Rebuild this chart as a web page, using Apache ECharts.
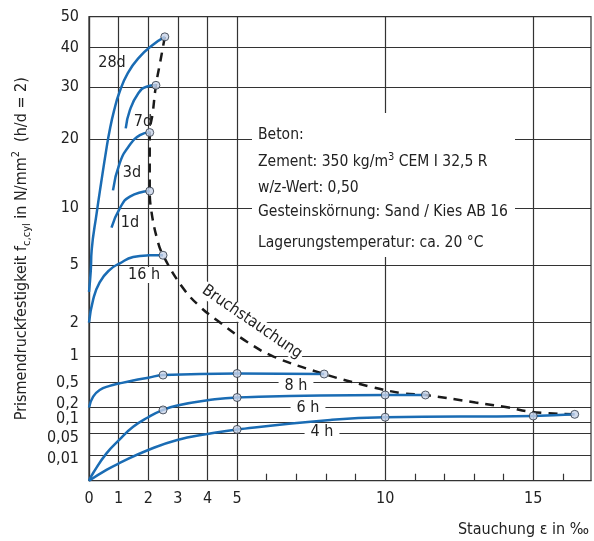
<!DOCTYPE html>
<html>
<head>
<meta charset="utf-8">
<script src="https://cdn.jsdelivr.net/npm/echarts@6/dist/echarts.min.js"></script>
<style>
  html, body { margin: 0; padding: 0; background: #fff; }
  #chart { width: 594px; height: 541px; }
</style>
</head>
<body>
<div id="chart"></div>
<script>
// hand drawn y scale: tick values and their height above the x axis
const yTickValues = [0, 0.01, 0.05, 0.1, 0.2, 0.5, 1, 2, 5, 10, 20, 30, 40, 50];
const yTickLabels = ['', '0,01', '0,05', '0,1', '0,2', '0,5', '1', '2', '5', '10', '20', '30', '40', '50'];
const yScalePos = [0, 25.7, 47.2, 58, 73.2, 98.2, 124.7, 158, 215.7, 272.4, 341.4, 393.4, 433, 464];

const xGridValues = [0, 1, 2, 3, 4, 5, 10, 15];
const xMinorTicks = [6, 7, 8, 9, 11, 12, 13, 14, 16];
const xMax = 16.95;

// Stauchung (‰), Druckfestigkeit (N/mm²)
const d28 = [[0, 3.6], [0.06, 4.7], [0.09, 6.3], [0.26, 9.6], [0.41, 13.7], [0.58, 18.4], [0.7, 21.8], [0.85, 25.6], [1.02, 28.9], [1.31, 33.6], [1.71, 37.7], [2.15, 40.9], [2.56, 43.5]];
const d7 = [[1.24, 22.1], [1.38, 25.6], [1.66, 28.8], [1.94, 30.15], [2.26, 30.5]];
const d3 = [[0.81, 12.6], [1.04, 16.6], [1.38, 19.2], [1.72, 20.8], [2.05, 21.3]];
const d1 = [[0.76, 8.3], [1.04, 10], [1.38, 11.7], [2.05, 12.5]];
const h16 = [[0, 2], [0.14, 3.2], [0.36, 4.1], [0.7, 4.75], [1.04, 5.15], [1.49, 5.7], [2, 5.85], [2.5, 5.86]];
const h8 = [[0, 0.2], [0.14, 0.33], [0.36, 0.41], [0.7, 0.46], [1.02, 0.488], [1.49, 0.538], [2, 0.59], [2.5, 0.64], [5, 0.67], [7.94, 0.66]];
const h6 = [[0, 0], [0.14, 0.003], [0.59, 0.013], [1.02, 0.038], [1.49, 0.081], [2, 0.136], [2.5, 0.184], [2.98, 0.224], [4, 0.286], [5, 0.32], [10, 0.35], [11.36, 0.35]];
const h4 = [[0, 0], [0.59, 0.0042], [1.02, 0.0068], [2, 0.0193], [2.98, 0.038], [4, 0.049], [5, 0.069], [8.15, 0.118], [10, 0.136], [15, 0.144], [16.4, 0.155]];
const bruch = [[2.56, 43.5], [2.42, 37], [2.26, 30.5], [2.15, 25], [2.05, 21.3], [2.05, 12.5], [2.1, 9.85], [2.28, 7.5], [2.5, 5.86], [3.18, 3.79], [3.75, 2.83], [4.31, 2.14], [5.33, 1.43], [6.23, 0.99], [7.94, 0.66], [9.5, 0.45], [10.6, 0.37], [11.36, 0.35], [13.05, 0.26], [14.17, 0.2], [14.9, 0.172], [16.4, 0.155]];
const messPunkte = [[2.56, 43.5], [2.26, 30.5], [2.05, 21.3], [2.05, 12.5], [2.5, 5.86], [2.5, 0.64], [5, 0.67], [7.94, 0.66], [2.5, 0.184], [5, 0.32], [10, 0.35], [11.36, 0.35], [5, 0.069], [10, 0.136], [15, 0.144], [16.4, 0.155]];

const F = "'Liberation Sans Narrow', 'DejaVu Sans Condensed', sans-serif";
const BLUE = '#1a6cb4';
const GRID = '#333';

// value -> position on the hand drawn axis (piecewise linear)
function pos (v) {
  for (let i = 1; i < yTickValues.length; i++) {
    if (v <= yTickValues[i]) {
      const a = yTickValues[i - 1], b = yTickValues[i];
      return yScalePos[i - 1] + (v - a) / (b - a) * (yScalePos[i] - yScalePos[i - 1]);
    }
  }
  return yScalePos[yScalePos.length - 1];
}
const toXY = arr => arr.map(p => [p[0], pos(p[1])]);

// crowded labels are nudged up (-) or down (+)
const labelNudge = { '0,2': -4, '0,1': -4.5, '0,05': 4, '0,01': 2 };

const chart = echarts.init(document.getElementById('chart'));

function curve (data) {
  return {
    type: 'line',
    data: toXY(data),
    smooth: 0.5,
    showSymbol: false,
    lineStyle: { color: BLUE, width: 2.5 },
    z: 3
  };
}

chart.setOption({
  animation: false,
  textStyle: { fontFamily: F },
  grid: {
    left: 89, right: 3, top: 16.7, bottom: 60.3,
    outerBoundsMode: 'none', containLabel: false,
    show: true, borderColor: GRID, borderWidth: 1.2
  },
  xAxis: [
    {
      type: 'value', min: 0, max: xMax,
      axisLine: { lineStyle: { color: GRID, width: 1.2 } },
      axisTick: { show: false, customValues: xGridValues },
      axisLabel: { customValues: xGridValues, color: '#222', fontSize: 16, margin: 10, fontFamily: F },
      splitLine: { show: true, lineStyle: { color: GRID, width: 1.2 } },
      name: 'Stauchung ε in ‰',
      nameLocation: 'end',
      nameGap: -2,
      nameTextStyle: { align: 'right', verticalAlign: 'top', padding: [41, 0, 0, 0], fontSize: 16, color: '#222', fontFamily: F }
    },
    {
      type: 'value', min: 0, max: xMax, position: 'bottom', offset: 0,
      axisLine: { show: false },
      axisTick: { show: true, inside: true, length: 7, customValues: xMinorTicks, lineStyle: { color: GRID, width: 1.2 } },
      axisLabel: { show: false },
      splitLine: { show: false }
    }
  ],
  yAxis: {
    type: 'value', min: 0, max: yScalePos[yScalePos.length - 1],
    axisLine: { lineStyle: { color: GRID, width: 1.2 } },
    axisTick: { show: false, customValues: yScalePos },
    axisLabel: {
      customValues: yScalePos,
      fontSize: 16, color: '#222', margin: 10, fontFamily: F,
      formatter: function (val) {
        let i = 0;
        yScalePos.forEach((p, k) => { if (Math.abs(p - val) < 0.01) i = k; });
        const t = yTickLabels[i];
        const n = labelNudge[t];
        if (!n) return '{t|' + t + '}';
        const gap = Math.abs(n) * 2;
        return n < 0 ? '{t|' + t + '}\n{s|' + gap + '}' : '{s|' + gap + '}\n{t|' + t + '}';
      },
      rich: {
        t: { fontSize: 16, lineHeight: 16, color: '#222', fontFamily: F },
        s: { fontSize: 1, color: 'rgba(0,0,0,0)', lineHeight: 8 }
      }
    },
    splitLine: { show: true, lineStyle: { color: GRID, width: 1.2 } },
    name: '{n|Prismendruckfestigkeit f}{sub|c,cyl}{n| in N/mm}{sup|2}{n|  (h/d = 2)}',
    nameLocation: 'middle',
    nameRotate: 90,
    nameGap: 56,
    nameTextStyle: {
      rich: {
        n: { fontSize: 16, lineHeight: 22, color: '#222', fontFamily: F },
        sub: { fontSize: 11, lineHeight: 11, verticalAlign: 'bottom', color: '#222', fontFamily: F },
        sup: { fontSize: 11, lineHeight: 11, verticalAlign: 'top', color: '#222', fontFamily: F }
      }
    }
  },
  series: [
    curve(d28), curve(d7), curve(d3), curve(d1), curve(h16), curve(h8), curve(h6), curve(h4),
    {
      type: 'line',
      data: toXY(bruch),
      smooth: 0.4,
      showSymbol: false,
      lineStyle: { color: '#1a1a1a', width: 2.5, type: [9, 7] },
      z: 2
    },
    {
      type: 'scatter',
      data: toXY(messPunkte),
      symbol: 'circle',
      symbolSize: 8,
      itemStyle: { color: '#c8d3e8', borderColor: '#2a3340', borderWidth: 1 },
      z: 5
    }
  ],
  graphic: [
    { type: 'rect', shape: { x: 252, y: 113, width: 263, height: 144 }, style: { fill: '#fff' }, z: 40 },
    { type: 'text', x: 258, y: 135, z: 41, style: { text: 'Beton:', font: '15.5px ' + F, fill: '#222', verticalAlign: 'middle' } },
    {
      type: 'text', x: 258, y: 161.7, z: 41,
      style: {
        text: '{n|Zement: 350 kg/m}{sup|3}{n| CEM I 32,5 R}', verticalAlign: 'middle', fill: '#222',
        rich: {
          n: { fontSize: 15.5, lineHeight: 20, fontFamily: F, fill: '#222' },
          sup: { fontSize: 11, lineHeight: 11, verticalAlign: 'top', fontFamily: F, fill: '#222' }
        }
      }
    },
    { type: 'text', x: 258, y: 188.3, z: 41, style: { text: 'w/z-Wert: 0,50', font: '15.5px ' + F, fill: '#222', verticalAlign: 'middle' } },
    { type: 'text', x: 258, y: 211.7, z: 41, style: { text: 'Gesteinskörnung: Sand / Kies AB 16', font: '15.5px ' + F, fill: '#222', verticalAlign: 'middle' } },
    { type: 'text', x: 258, y: 243.3, z: 41, style: { text: 'Lagerungstemperatur: ca. 20 °C', font: '15.5px ' + F, fill: '#222', verticalAlign: 'middle' } },

    { type: 'text', x: 112, y: 63, z: 41, style: { text: '28d', font: '16px ' + F, fill: '#222', align: 'center', verticalAlign: 'middle' } },
    { type: 'text', x: 143, y: 122, z: 41, style: { text: '7d', font: '16px ' + F, fill: '#222', align: 'center', verticalAlign: 'middle' } },
    { type: 'text', x: 132, y: 173, z: 41, style: { text: '3d', font: '16px ' + F, fill: '#222', align: 'center', verticalAlign: 'middle' } },
    { type: 'text', x: 130, y: 223, z: 41, style: { text: '1d', font: '16px ' + F, fill: '#222', align: 'center', verticalAlign: 'middle' } },
    { type: 'text', x: 144, y: 275, z: 41, style: { text: '16 h', font: '16px ' + F, fill: '#222', align: 'center', verticalAlign: 'middle', backgroundColor: '#fff', padding: [0, 4] } },
    { type: 'text', x: 296, y: 386, z: 41, style: { text: '8 h', font: '16px ' + F, fill: '#222', align: 'center', verticalAlign: 'middle', backgroundColor: '#fff', padding: [0, 6] } },
    { type: 'text', x: 308, y: 408, z: 41, style: { text: '6 h', font: '16px ' + F, fill: '#222', align: 'center', verticalAlign: 'middle', backgroundColor: '#fff', padding: [0, 6] } },
    { type: 'text', x: 322, y: 432, z: 41, style: { text: '4 h', font: '16px ' + F, fill: '#222', align: 'center', verticalAlign: 'middle', backgroundColor: '#fff', padding: [0, 6] } },
    { type: 'text', x: 252, y: 322, rotation: -0.6, z: 41, style: { text: 'Bruchstauchung', font: '16px ' + F, fill: '#222', align: 'center', verticalAlign: 'middle', backgroundColor: '#fff', padding: [0, 2] } }
  ]
});
</script>
</body>
</html>
